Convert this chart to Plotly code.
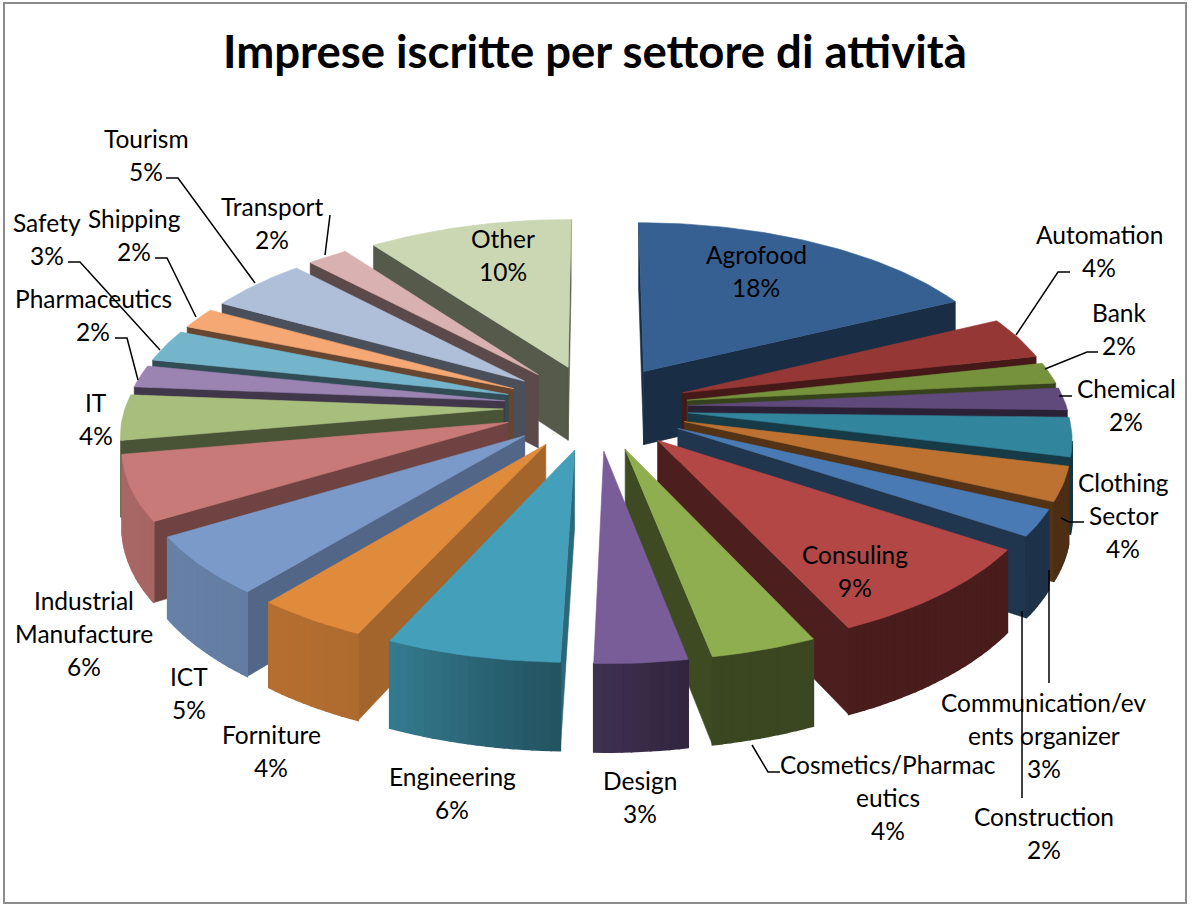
import numpy as np
import plotly.graph_objects as go

# ---- data ----
categories = ["Agrofood", "Automation", "Bank", "Chemical", "Clothing Sector",
              "Communication/events organizer", "Construction", "Consuling",
              "Cosmetics/Pharmaceutics", "Design", "Engineering", "Forniture", "ICT",
              "Industrial Manufacture", "IT", "Pharmaceutics", "Safety", "Shipping",
              "Tourism", "Transport", "Other"]
values = [17.7, 3.8, 1.9, 2.0, 3.5, 3.1, 2.4, 8.7, 3.9, 3.4, 6.4, 4.1, 5.4, 5.9, 4.1,
          2.0, 2.9, 1.9, 4.9, 2.0, 10.0]
colors = ["#376092", "#953735", "#76923C", "#604A7B", "#31859C", "#BE7231", "#4A7AB3",
          "#B24745", "#8FAE50", "#785D99", "#44A0BA", "#E08A3C", "#7B9AC9", "#C77A78",
          "#A8BE7C", "#9B84B2", "#75B5CC", "#F5A873", "#B0BFD9", "#D9B1B0", "#CBD7B3"]
no_outer_wall = ["IT"]  # its outer wall does not show in the reference

# ---- label layout (page pixels): text lines, centre x, first-line y ----
label_lines = [
    (["Agrofood", "18%"], 756, 254), (["Automation", "4%"], 1099, 234),
    (["Bank", "2%"], 1119, 312), (["Chemical", "2%"], 1126, 388),
    (["Clothing", "Sector", "4%"], 1123, 482),
    (["Communication/ev", "ents organizer", "3%"], 1044, 702),
    (["Construction", "2%"], 1044, 816), (["Consuling", "9%"], 855, 554),
    (["Cosmetics/Pharmac", "eutics", "4%"], 888, 764), (["Design", "3%"], 640, 780),
    (["Engineering", "6%"], 452, 776), (["Forniture", "4%"], 271, 734),
    (["ICT", "5%"], 189, 676), (["Industrial", "Manufacture", "6%"], 84, 600),
    (["IT", "4%"], 96, 402), (["Pharmaceutics", "2%"], 93, 298),
    (["Safety", "3%"], 47, 222), (["Shipping", "2%"], 134, 218),
    (["Tourism", "5%"], 146, 138), (["Transport", "2%"], 272, 206),
    (["Other", "10%"], 503, 238),
]
leaders = [
    [(166, 178), (178, 178), (255, 283)], [(330, 215), (325, 255)],
    [(68, 262), (80, 262), (160, 350)], [(155, 258), (167, 258), (196, 317)],
    [(115, 338), (127, 338), (138, 380)], [(1098, 352), (1087, 352), (1045, 369)],
    [(1072, 396), (1059, 396)], [(1070, 272), (1058, 272), (1016, 335)],
    [(1084, 522), (1069, 522), (1061, 518)], [(1049, 570), (1049, 683)],
    [(1022, 611), (1022, 798)], [(780, 772), (768, 772), (752, 745)],
]

# ---- projection of the tilted, exploded pie ----
CX, CY, RX, RY, K, H, EXPLODE = 596, 407, 378, 175, 0.122, 75, 0.245


def project(x, y, z=0.0):
    s = 1 / (1 - K * y)
    return CX + x * RX * s, CY + y * RY * s + z * H * s


def shade(hex_color, f):
    r, g, b = [int(hex_color[i:i + 2], 16) for i in (1, 3, 5)]
    return f"rgb({int(r * f)},{int(g * f)},{int(b * f)})"


def wall_factor(deg):
    return float(np.interp(deg, [0, 170, 178, 185, 205, 225, 250, 280, 360],
                           [.41, .41, .5, .55, .78, .82, .85, .85, .6]))


def radial_factor(deg):
    return float(np.interp(deg, [0, 100, 180, 200, 230, 250, 270, 360],
                           [.48, .45, .42, .78, .67, .55, .42, .42]))


fig = go.Figure()


def add_poly(xs, ys, color, width=0.6):
    fig.add_trace(go.Scatter(x=xs, y=ys, mode="lines", fill="toself", fillcolor=color,
                             line=dict(color=color, width=width), hoverinfo="skip",
                             showlegend=False))


edges = np.cumsum([0] + values) / sum(values) * 2 * np.pi
order = sorted(range(len(values)), key=lambda i: -np.cos((edges[i] + edges[i + 1]) / 2))

for i in order:
    t0, t1 = edges[i], edges[i + 1]
    mid = (t0 + t1) / 2
    mid_deg = np.degrees(mid)
    ox, oy = EXPLODE * np.sin(mid), -EXPLODE * np.cos(mid)
    n = max(4, int(values[i] * 3))
    th = np.linspace(t0, t1, n + 1)
    wx, wy = ox + np.sin(th), oy - np.cos(th)

    def side(x0, y0, x1, y1, color, width=0.6):
        a, b = project(x0, y0), project(x1, y1)
        if b[0] - a[0] >= 0:
            return
        c, d = project(x1, y1, 1), project(x0, y0, 1)
        add_poly([a[0], b[0], c[0], d[0], a[0]], [a[1], b[1], c[1], d[1], a[1]], color, width)

    rad = shade(colors[i], radial_factor(mid_deg))
    side(ox, oy, wx[0], wy[0], rad)
    side(wx[-1], wy[-1], ox, oy, rad)
    if categories[i] not in no_outer_wall:
        for j in range(n):
            wall = shade(colors[i], wall_factor(np.degrees((th[j] + th[j + 1]) / 2)))
            side(wx[j], wy[j], wx[j + 1], wy[j + 1], wall, 1.6)
    px, py = project(np.r_[ox, wx, ox], np.r_[oy, wy, oy])
    add_poly(px, py, colors[i])

shapes = [dict(type="rect", x0=4, y0=3, x1=1186, y1=903, layer="below",
               line=dict(color="#8C8C8C", width=2), fillcolor="white")]
for pts in leaders:
    path = "M" + " L".join(f"{x},{y}" for x, y in pts)
    shapes.append(dict(type="path", path=path, line=dict(color="black", width=1.5)))

annotations = [dict(x=595, y=50, text="<b>Imprese iscritte per settore di attività</b>",
                    showarrow=False, font=dict(family="Lato", size=45.5, color="black"))]
for lines, x, y in label_lines:
    for k, line in enumerate(lines):
        annotations.append(dict(x=x, y=y + k * 33, text=line, showarrow=False,
                                font=dict(family="Lato", size=24.5, color="black")))

fig.update_layout(
    width=1192, height=911, autosize=False, margin=dict(l=0, r=0, t=0, b=0),
    paper_bgcolor="white", plot_bgcolor="white", showlegend=False,
    xaxis=dict(range=[0, 1192], visible=False, fixedrange=True),
    yaxis=dict(range=[911, 0], visible=False, fixedrange=True),
    shapes=shapes, annotations=annotations,
)
fig.write_html("out.html", config={"displayModeBar": False},
               post_script="document.body.style.margin='0';")
